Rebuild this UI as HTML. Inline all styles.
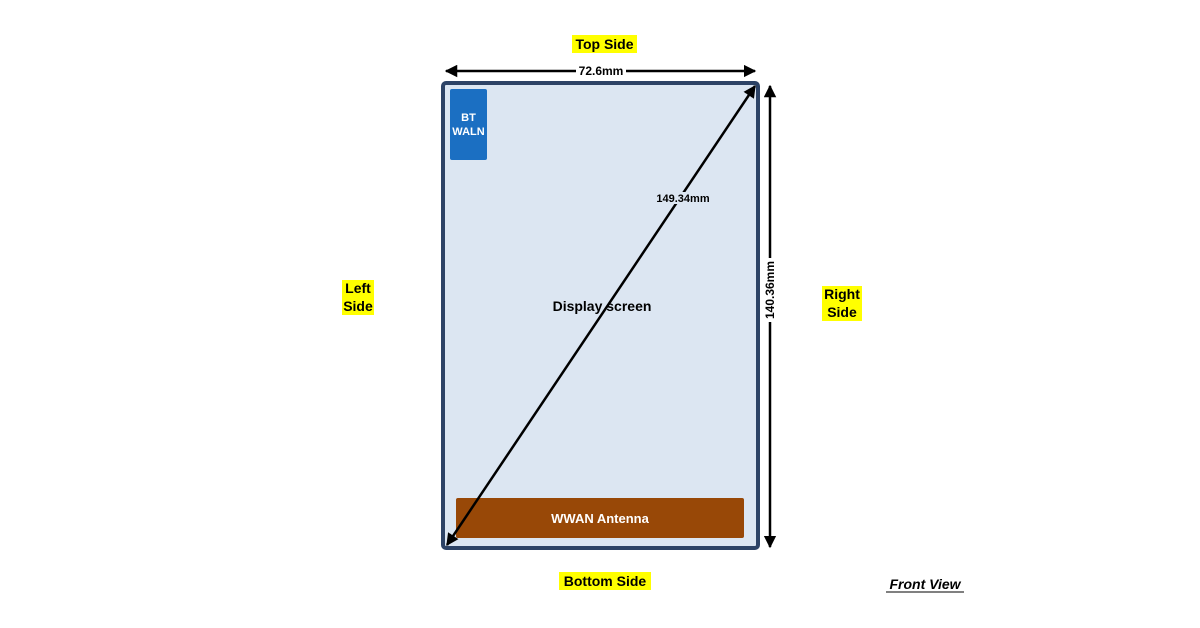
<!DOCTYPE html>
<html><head><style>
body{margin:0;background:#fff;}
svg{display:block;font-family:"Liberation Sans",Arial,sans-serif;font-weight:bold;}
</style></head><body>
<svg width="1200" height="628" viewBox="0 0 1200 628" xmlns="http://www.w3.org/2000/svg">
<defs>
<marker id="a" viewBox="0 0 10 10" refX="9" refY="5" markerWidth="5" markerHeight="5" orient="auto-start-reverse"><path d="M0,0 L10,5 L0,10 z" fill="#000"/></marker>
</defs>
<rect x="443" y="83" width="315" height="465" rx="3" fill="#dce6f2" stroke="#2d4366" stroke-width="4"/>
<rect x="450" y="89" width="37" height="71" rx="2" fill="#1b6fc2"/>
<text x="468.5" y="121" font-size="11" fill="#fff" text-anchor="middle">BT</text>
<text x="468.5" y="135" font-size="11" fill="#fff" text-anchor="middle">WALN</text>
<rect x="456" y="498" width="288" height="40" rx="2" fill="#984807"/>
<text x="600" y="523" font-size="13" fill="#fff" text-anchor="middle">WWAN Antenna</text>
<line x1="447" y1="545" x2="755" y2="86" stroke="#000" stroke-width="2.5" marker-start="url(#a)" marker-end="url(#a)"/>
<rect x="654" y="192" width="58" height="12" fill="#dce6f2"/>
<text x="683" y="202" font-size="11" text-anchor="middle">149.34mm</text>
<text x="602" y="311" font-size="14" text-anchor="middle">Display screen</text>
<line x1="446" y1="71" x2="755" y2="71" stroke="#000" stroke-width="2.5" marker-start="url(#a)" marker-end="url(#a)"/>
<rect x="576" y="64" width="50" height="14" fill="#fff"/>
<text x="601" y="75" font-size="12" text-anchor="middle">72.6mm</text>
<line x1="770" y1="86" x2="770" y2="547" stroke="#000" stroke-width="2.5" marker-start="url(#a)" marker-end="url(#a)"/>
<rect x="763" y="258" width="14" height="64" fill="#fff"/>
<text transform="translate(774,290) rotate(-90)" font-size="12" text-anchor="middle">140.36mm</text>
<rect x="572" y="35" width="65" height="18" fill="#ffff00"/>
<text x="604.5" y="49" font-size="14" text-anchor="middle">Top Side</text>
<rect x="559" y="572" width="92" height="18" fill="#ffff00"/>
<text x="605" y="586" font-size="14" text-anchor="middle">Bottom Side</text>
<rect x="342" y="280" width="32" height="35" fill="#ffff00"/>
<text x="358" y="293" font-size="14" text-anchor="middle">Left</text>
<text x="358" y="311" font-size="14" text-anchor="middle">Side</text>
<rect x="822" y="286" width="40" height="35" fill="#ffff00"/>
<text x="842" y="299" font-size="14" text-anchor="middle">Right</text>
<text x="842" y="317" font-size="14" text-anchor="middle">Side</text>
<text x="925" y="589" font-size="14" font-style="italic" text-anchor="middle">Front View</text>
<line x1="886" y1="592" x2="964" y2="592" stroke="#000" stroke-width="1"/>
</svg>
</body></html>
